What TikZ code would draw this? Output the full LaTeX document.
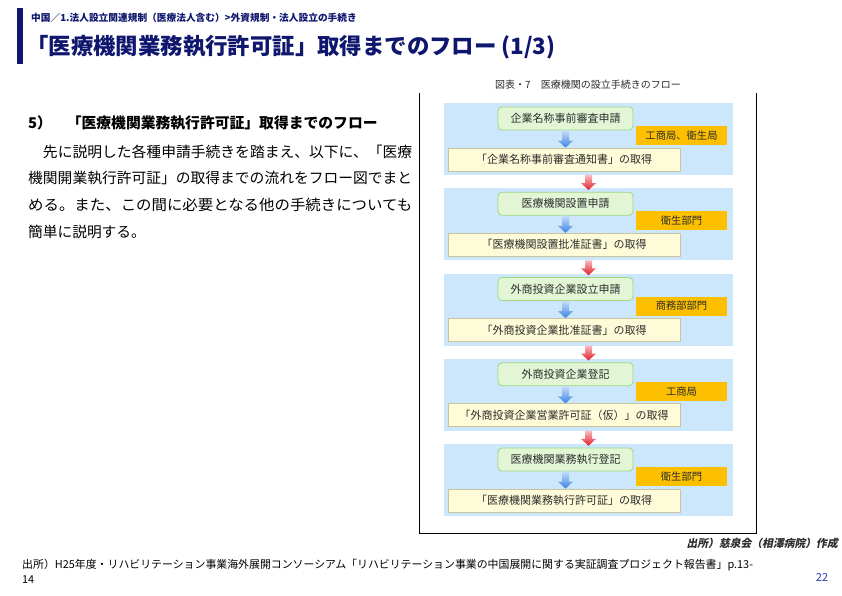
\documentclass[tikz,border=0pt]{standalone}
\usepackage{fontspec}
\usepackage{graphicx}
\setmainfont{Noto Sans CJK JP}
\newfontfamily\jpslant[FakeSlant=0.2]{Noto Sans CJK JP}
\usetikzlibrary{calc}
\definecolor{navy}{RGB}{14,22,110}
\definecolor{panelblue}{RGB}{204,231,251}
\definecolor{greenfill}{RGB}{226,246,214}
\definecolor{greenline}{RGB}{160,214,130}
\definecolor{yellowfill}{RGB}{254,252,216}
\definecolor{yellowline}{RGB}{200,196,160}
\definecolor{orangefill}{RGB}{252,192,0}
\definecolor{figtext}{RGB}{45,45,45}
\definecolor{pagenum}{RGB}{40,60,170}
\definecolor{bluetop}{RGB}{196,222,248}
\definecolor{bluebot}{RGB}{60,130,225}
\definecolor{redtop}{RGB}{248,185,190}
\definecolor{redbot}{RGB}{225,30,40}
\tikzset{
  panel/.style={fill=panelblue, minimum width=289pt, minimum height=72pt, inner sep=0pt},
  greenbox/.style={fill=greenfill, draw=greenline, line width=0.8pt, rounded corners=4pt,
    minimum width=135pt, minimum height=23pt, inner sep=0pt,
    font=\fontsize{11}{12}\selectfont, text=figtext},
  yellowbox/.style={fill=yellowfill, draw=yellowline, line width=0.7pt,
    minimum width=232pt, minimum height=23pt, inner sep=0pt,
    font=\fontsize{11}{12}\selectfont, text=figtext},
  orangebox/.style={fill=orangefill, minimum width=91pt, minimum height=19pt, inner sep=0pt,
    font=\fontsize{10.3}{12}\selectfont, text=figtext},
  bodyline/.style={anchor=west, inner sep=0pt, font=\fontsize{14.7}{16}\selectfont, text=black},
}
\newcommand{\blockarrow}[4]{%
  \path[top color=#3, bottom color=#4] let \p1=(#1), \p2=(#2) in
    (\x1-3.5pt,\y1) -- (\x1+3.5pt,\y1) -- (\x1+3.5pt,\y2+7pt) -- (\x1+7.5pt,\y2+7pt)
    -- (\x1,\y2) -- (\x1-7.5pt,\y2+7pt) -- (\x1-3.5pt,\y2+7pt) -- cycle;
}
\begin{document}
\begin{tikzpicture}[x=1pt, y=-1pt]
\useasboundingbox[fill=white] (0,0) rectangle (842,595);

% header
\fill[navy] (17,8) rectangle (23,64);
\node[anchor=west, inner sep=0pt, text=navy, font=\fontsize{9.7}{11}\selectfont\bfseries] (crumb) at (31,18)
  {中国／1.法人設立関連規制（医療法人含む）>外資規制・法人設立の手続き};
\node[anchor=west, inner sep=0pt, text=navy, font=\fontsize{22.4}{26}\selectfont\bfseries] (title) at (26,47)
  {「医療機関業務執行許可証」取得までのフロー (1/3)};

% left text
\node[anchor=west, inner sep=0pt, font=\fontsize{14.8}{16}\selectfont\bfseries] (head) at (28,123)
  {5）　「医療機関業務執行許可証」取得までのフロー};
\node[bodyline] (l1) at (28,152) {\resizebox{384pt}{\height}{　先に説明した各種申請手続きを踏まえ、以下に、「医療}};
\node[bodyline] (l2) at (28,178) {\resizebox{384pt}{\height}{機関開業執行許可証」の取得までの流れをフロー図でまと}};
\node[bodyline] (l3) at (28,205) {\resizebox{384pt}{\height}{める。また、この間に必要となる他の手続きについても}};
\node[bodyline] (l4) at (28,232) {簡単に説明する。};

% figure
\node[inner sep=0pt, text=figtext, font=\fontsize{10}{11}\selectfont] (cap) at (588,85)
  {図表・7　医療機関の設立手続きのフロー};
\draw[line width=0.9pt] (419,93) -- (419,533) -- (756,533) -- (756,93);

\foreach \i/\g/\o/\y in {
  1/企業名称事前審査申請/工商局、衛生局/「企業名称事前審査通知書」の取得,
  2/医療機関設置申請/衛生部門/「医療機関設置批准証書」の取得,
  3/外商投資企業設立申請/商務部部門/「外商投資企業批准証書」の取得,
  4/外商投資企業登記/工商局/「外商投資企業営業許可証（仮）」の取得,
  5/医療機関業務執行登記/衛生部門/「医療機関業務執行許可証」の取得}{
  \pgfmathsetmacro{\t}{103+85.25*(\i-1)}
  \node[panel] (p\i) at (588.5,\t+36) {};
  \node[orangebox] (o\i) at (681.5,\t+32.5) {\o};
  \node[greenbox] (g\i) at (565.5,\t+15.5) {\g};
  \node[yellowbox] (y\i) at (564,\t+56.5) {\y};
  \blockarrow{g\i.south}{y\i.north}{bluetop}{bluebot}
}
\foreach \i [evaluate=\i as \j using int(\i+1)] in {1,2,3,4}{
  \blockarrow{p\i.south}{$(p\j.north)+(0,2)$}{redtop}{redbot}
}

\node[anchor=east, inner sep=0pt, text=figtext, font=\fontsize{10.8}{12}\selectfont\jpslant\bfseries] (src) at (838,543)
  {出所）慈泉会（相澤病院）作成};

% footer
\node[anchor=west, inner sep=0pt, font=\fontsize{10.9}{12}\selectfont] (foot1) at (22,565)
  {出所）H25年度・リハビリテーション事業海外展開コンソーシアム「リハビリテーション事業の中国展開に関する実証調査プロジェクト報告書」p.13-};
\node[anchor=west, inner sep=0pt, font=\fontsize{10.9}{12}\selectfont] (foot2) at (22,580) {14};
\node[inner sep=0pt, text=pagenum, font=\fontsize{11}{12}\selectfont] (pg) at (822,577) {22};
\end{tikzpicture}
\end{document}
